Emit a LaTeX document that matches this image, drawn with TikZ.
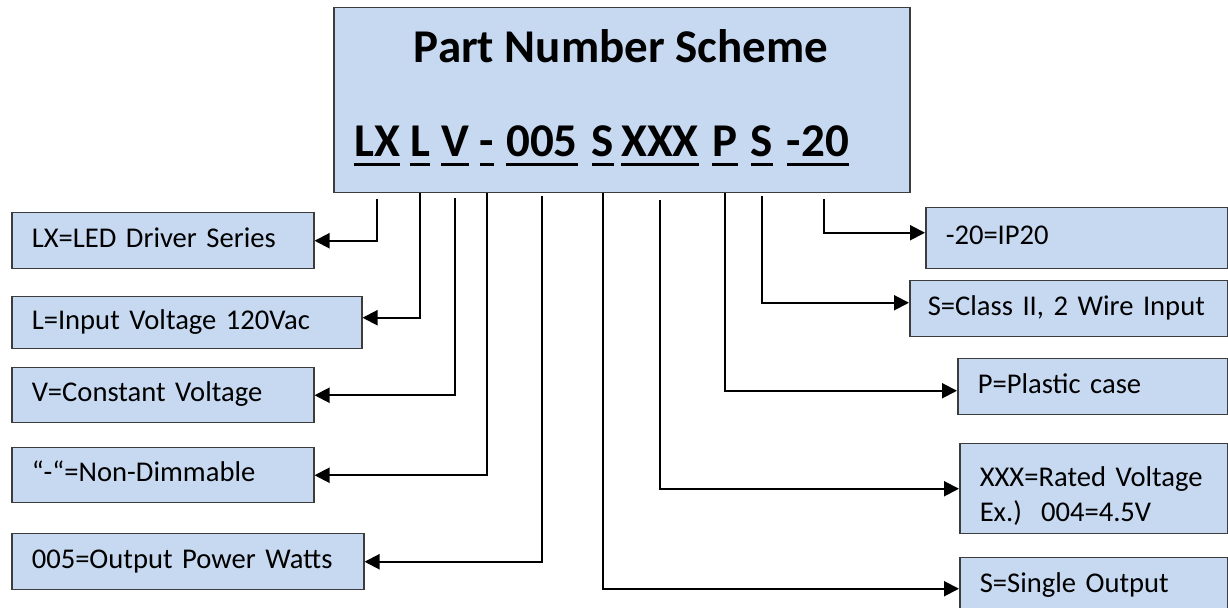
\documentclass[tikz,border=0pt]{standalone}
\usepackage{fontspec}
\setmainfont{Carlito}
\usetikzlibrary{positioning}
\usetikzlibrary{arrows.meta}

\definecolor{boxblue}{HTML}{C6D9F1}
\definecolor{edgegray}{HTML}{3C3C3C}
\newcommand{\pnmark}[1]{\setbox0\hbox{#1}\rlap{\rule[-4.75pt]{\wd0}{1.5pt}}\box0}
\hyphenpenalty=10000

\begin{document}
\begin{tikzpicture}[x=0.5pt,y=-0.5pt,
 note/.style={draw=edgegray,fill=boxblue,line width=0.75pt,anchor=north west,align=left,inner xsep=10pt,inner ysep=0pt,font=\fontsize{14.3}{17.5}\selectfont},
 line/.style={note,text height=0.9em,text depth=0.256em},
 code/.style={anchor=base,inner sep=0pt,font=\fontsize{23.5}{28}\selectfont\bfseries},
 feed/.style={line width=1pt,-{Triangle[length=7.5pt,width=7.5pt]}}]
 \useasboundingbox (0,0) rectangle (1228,608);
 \node[draw=edgegray,fill=boxblue,line width=0.75pt,anchor=north west,minimum width=288pt,minimum height=92.5pt,inner sep=0pt] (main) at (333,7) {};
 \node[anchor=base,font=\fontsize{23.5}{28}\selectfont\bfseries] (head) at (621,63) {Part Number Scheme};
 \node[code] (lx) at (377,157) {\pnmark{LX}};
 \node[code] (l) at (420,157) {\pnmark{L}};
 \node[code] (v) at (455,157) {\pnmark{V}};
 \node[code] (dash) at (487,157) {\pnmark{-}};
 \node[code] (watt) at (542,157) {\pnmark{005}};
 \node[code] (s) at (603,157) {\pnmark{S}};
 \node[code] (xxx) at (660,157) {\pnmark{XXX}};
 \node[code] (p) at (725,157) {\pnmark{P}};
 \node[code] (cls) at (762,157) {\pnmark{S}};
 \node[code] (ip) at (818,157) {\pnmark{-20}};
 \node[line,text width=131pt,minimum height=28pt] (lxbox) at (11,212) {LX=LED Driver Series};
 \node[line,text width=155pt,minimum height=26pt] (lbox) at (11,296) {L=Input Voltage 120Vac};
 \node[line,text width=131pt,minimum height=27.5pt] (vbox) at (11,367) {V=Constant Voltage};
 \node[line,text width=131pt,minimum height=27.5pt] (dashbox) at (11,447) {“-“=Non-Dimmable};
 \node[line,text width=156pt,minimum height=28pt] (wattbox) at (11,533) {005=Output Power Watts};
 \node[line,text width=131pt,minimum height=30.5pt] (ipbox) at (925,207) {-20=IP20};
 \node[line,inner xsep=9pt,text width=141pt,minimum height=28pt] (clsbox) at (909,280) {S=Class II, 2 Wire Input};
 \node[line,text width=115pt,minimum height=28pt] (pbox) at (957,358) {P=Plastic case};
 \node[note,text width=114pt,minimum height=45pt] (xxxbox) at (959,443) {\rule{0pt}{17pt}XXX=Rated Voltage\\Ex.)~~004=4.5V};
 \node[line,text width=114pt,minimum height=28pt] (sbox) at (959,557) {S=Single Output};
 \draw[feed] ([yshift=-3pt]lx.base |- main.south) |- (lxbox.east);
 \draw[feed] (l.base |- main.south) |- ([yshift=2.5pt]lbox.east);
 \draw[feed] ([yshift=-2.5pt]v.base |- main.south) |- (vbox.east);
 \draw[feed] (dash.base |- main.south) |- (dashbox.east);
 \draw[feed] ([yshift=-1.5pt]watt.base |- main.south) |- (wattbox.east);
 \draw[feed] (s.base |- main.south) |- ([yshift=-1.5pt]sbox.west);
 \draw[feed] ([yshift=-3.5pt]xxx.base |- main.south) |- (xxxbox.west);
 \draw[feed] (p.base |- main.south) |- ([yshift=-2pt]pbox.west);
 \draw[feed] ([yshift=-1.5pt]cls.base |- main.south) |- ([yshift=3pt]clsbox.west);
 \draw[feed] ([xshift=3pt,yshift=-3pt]ip.base |- main.south) |- ([yshift=2.75pt]ipbox.west);
\end{tikzpicture}
\end{document}
